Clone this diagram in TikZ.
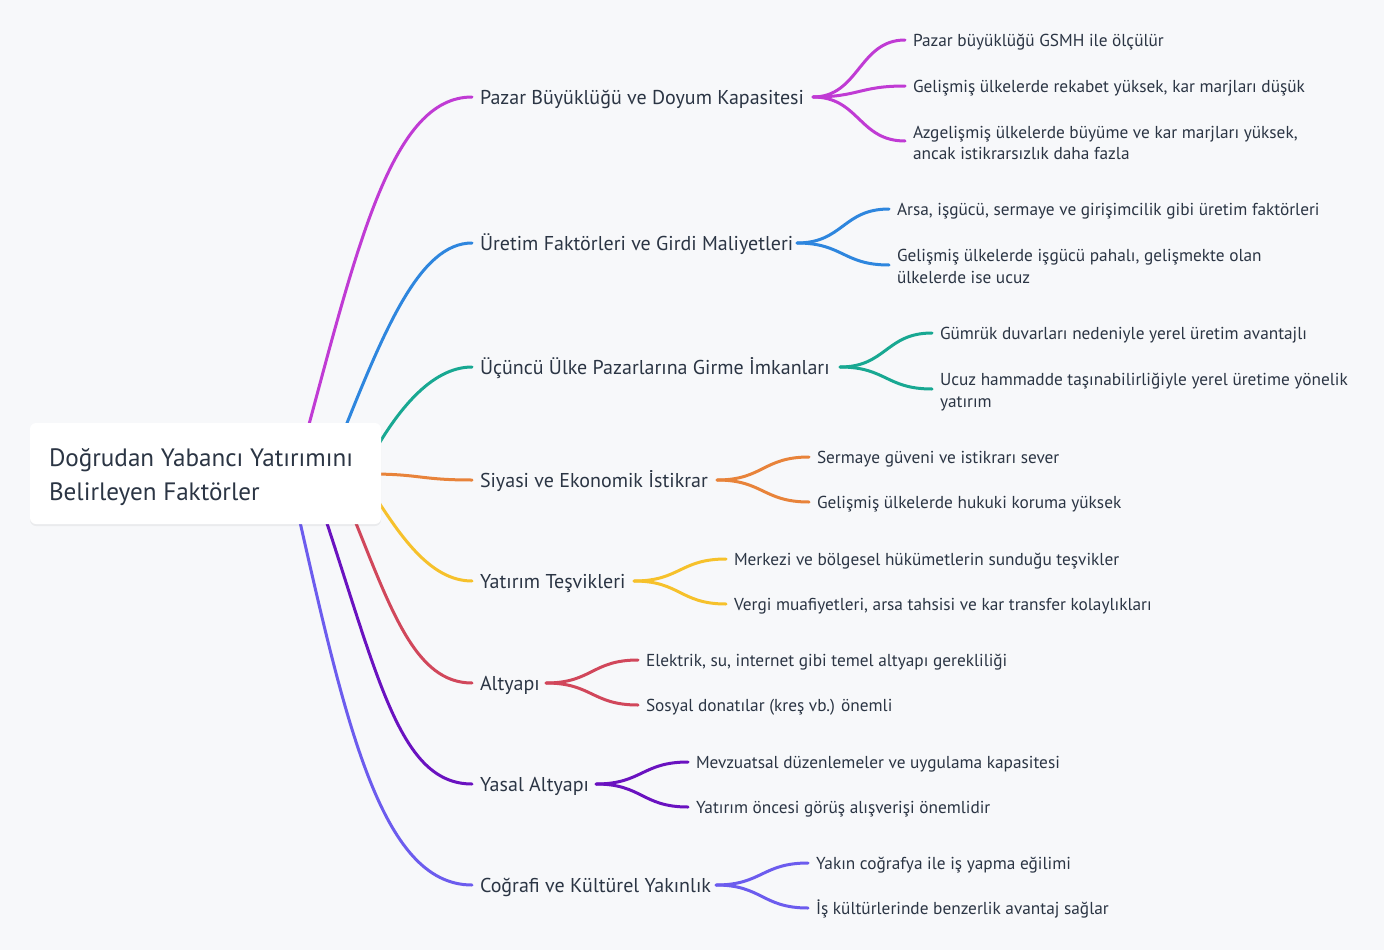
\documentclass[tikz,border=0pt]{standalone}
\usepackage{fontspec}
\setmainfont{PT Sans}
\usetikzlibrary{calc,shadows}
\definecolor{bg}{HTML}{F7F8FA}
\definecolor{txt}{HTML}{2B3544}
\definecolor{cA}{HTML}{C03BD4}
\definecolor{cB}{HTML}{2E86DE}
\definecolor{cC}{HTML}{18A892}
\definecolor{cD}{HTML}{E8833A}
\definecolor{cE}{HTML}{F6C12B}
\definecolor{cF}{HTML}{D1475B}
\definecolor{cG}{HTML}{6A12C0}
\definecolor{cH}{HTML}{6C5CEE}
\newlength\wtmp
\tikzset{
  kid/.style={anchor=base west, inner sep=0pt, outer sep=0pt, text=txt, align=left, font=\fontsize{\szc}{21.5}\selectfont},
  mid/.style={anchor=base west, inner sep=0pt, outer sep=0pt, text=txt, font=\fontsize{\szb}{24}\selectfont},
  roottext/.style={anchor=base west, inner sep=0pt, outer sep=0pt, align=left, text=txt, font=\fontsize{\sza}{34}\selectfont},
  rootbox/.style={fill=white, rounded corners=6pt, drop shadow={shadow xshift=0pt, shadow yshift=-2pt, opacity=0.05, fill=black}},
  link/.style={line width=3pt, line cap=round},
  kidcurve/.style={to path={.. controls ($(\tikztostart)!0.5!(\tikztostart -| \tikztotarget)$) and ($(\tikztotarget)!0.5!(\tikztotarget -| \tikztostart)$) .. (\tikztotarget)}}
}
\begin{document}
\settowidth\wtmp{\fontsize{10}{12}\selectfont Gelişmiş ülkelerde rekabet yüksek, kar marjları düşük}%
\pgfmathsetmacro\szc{3920/\wtmp}%
\settowidth\wtmp{\fontsize{10}{12}\selectfont Pazar Büyüklüğü ve Doyum Kapasitesi}%
\pgfmathsetmacro\szb{3240/\wtmp}%
\settowidth\wtmp{\fontsize{10}{12}\selectfont Doğrudan Yabancı Yatırımını}%
\pgfmathsetmacro\sza{3040/\wtmp}%
\pgfmathsetmacro\oc{0.35*\szc}%
\pgfmathsetmacro\ob{0.35*\szb}%
\pgfmathsetmacro\oa{0.35*\sza}%
\begin{tikzpicture}[x=1pt,y=-1pt]
\useasboundingbox (0,0) rectangle (1384,950);
\fill[bg] (0,0) rectangle (1384,950);

% root connector end points
\coordinate (rA) at (304,443);  \coordinate (eA) at (472,97);
\coordinate (rB) at (341,438);  \coordinate (eB) at (472,243);
\coordinate (rC) at (374,452);  \coordinate (eC) at (472,367);
\coordinate (rD) at (370,474);  \coordinate (eD) at (472,480);
\coordinate (rE) at (374,495);  \coordinate (eE) at (472,581);
\coordinate (rF) at (350.7,510);\coordinate (eF) at (472,683);
\coordinate (rG) at (322.6,510);\coordinate (eG) at (472,784);
\coordinate (rH) at (295,500);  \coordinate (eH) at (472,885);

\draw[link,cA] (rA) .. controls (358,243) and (392,97) .. (eA);
\draw[link,cB] (rB) .. controls (385,328) and (420,243) .. (eB);
\draw[link,cC] (rC) .. controls (396,414) and (430,367) .. (eC);
\draw[link,cD] (rD) .. controls (420,474) and (420,480) .. (eD);
\draw[link,cE] (rE) .. controls (400,535) and (430,581) .. (eE);
\draw[link,cF] (rF) .. controls (391,610) and (415,683) .. (eF);
\draw[link,cG] (rG) .. controls (379,680) and (400,784) .. (eG);
\draw[link,cH] (rH) .. controls (345,720) and (380,885) .. (eH);

% root
\fill[rootbox] (30,423) rectangle (381,524);
\node[roottext] (root) at (49,{492+\oa}) {Doğrudan Yabancı Yatırımını\\Belirleyen Faktörler};

% level 1
\node[mid] (pA) at (480,{97+\ob})  {Pazar Büyüklüğü ve Doyum Kapasitesi};
\node[mid] (pB) at (480,{243+\ob}) {Üretim Faktörleri ve Girdi Maliyetleri};
\node[mid] (pC) at (480,{367+\ob}) {Üçüncü Ülke Pazarlarına Girme İmkanları};
\node[mid] (pD) at (480,{480+\ob}) {Siyasi ve Ekonomik İstikrar};
\node[mid] (pE) at (480,{581+\ob}) {Yatırım Teşvikleri};
\node[mid] (pF) at (480,{683+\ob}) {Altyapı};
\node[mid] (pG) at (480,{784+\ob}) {Yasal Altyapı};
\node[mid] (pH) at (480,{885+\ob}) {Coğrafi ve Kültürel Yakınlık};

% branch starts
\coordinate (sA) at (813,97);
\coordinate (sB) at (797,243);
\coordinate (sC) at (840,367);
\coordinate (sD) at (717,480);
\coordinate (sE) at (634,581);
\coordinate (sF) at (546,683);
\coordinate (sG) at (596,784);
\coordinate (sH) at (716,885);

% child connector ends
\coordinate (kA1) at (905,40);  \coordinate (kA2) at (905,86);  \coordinate (kA3) at (905,141);
\coordinate (kB1) at (889,209); \coordinate (kB2) at (889,265);
\coordinate (kC1) at (932,333); \coordinate (kC2) at (932,389);
\coordinate (kD1) at (809,457); \coordinate (kD2) at (809,502);
\coordinate (kE1) at (726,559); \coordinate (kE2) at (726,604);
\coordinate (kF1) at (638,660); \coordinate (kF2) at (638,705);
\coordinate (kG1) at (688,762); \coordinate (kG2) at (688,807);
\coordinate (kH1) at (808,863); \coordinate (kH2) at (808,908);

\draw[link,cA] (sA) to[kidcurve] (kA1);
\draw[link,cA] (sA) to[kidcurve] (kA2);
\draw[link,cA] (sA) to[kidcurve] (kA3);
\draw[link,cB] (sB) to[kidcurve] (kB1);
\draw[link,cB] (sB) to[kidcurve] (kB2);
\draw[link,cC] (sC) to[kidcurve] (kC1);
\draw[link,cC] (sC) to[kidcurve] (kC2);
\draw[link,cD] (sD) to[kidcurve] (kD1);
\draw[link,cD] (sD) to[kidcurve] (kD2);
\draw[link,cE] (sE) to[kidcurve] (kE1);
\draw[link,cE] (sE) to[kidcurve] (kE2);
\draw[link,cF] (sF) to[kidcurve] (kF1);
\draw[link,cF] (sF) to[kidcurve] (kF2);
\draw[link,cG] (sG) to[kidcurve] (kG1);
\draw[link,cG] (sG) to[kidcurve] (kG2);
\draw[link,cH] (sH) to[kidcurve] (kH1);
\draw[link,cH] (sH) to[kidcurve] (kH2);

% level 2 texts (multi-line nodes: base = last line)
\node[kid] (tA1) at (913,{40+\oc})  {Pazar büyüklüğü GSMH ile ölçülür};
\node[kid] (tA2) at (913,{86+\oc})  {Gelişmiş ülkelerde rekabet yüksek, kar marjları düşük};
\node[kid] (tA3) at (913,{153.5+\oc}) {Azgelişmiş ülkelerde büyüme ve kar marjları yüksek,\\ancak istikrarsızlık daha fazla};
\node[kid] (tB1) at (897,{209+\oc}) {Arsa, işgücü, sermaye ve girişimcilik gibi üretim faktörleri};
\node[kid] (tB2) at (897,{277+\oc}) {Gelişmiş ülkelerde işgücü pahalı, gelişmekte olan\\ülkelerde ise ucuz};
\node[kid] (tC1) at (940,{333+\oc}) {Gümrük duvarları nedeniyle yerel üretim avantajlı};
\node[kid] (tC2) at (940,{401+\oc}) {Ucuz hammadde taşınabilirliğiyle yerel üretime yönelik\\yatırım};
\node[kid] (tD1) at (817,{457+\oc}) {Sermaye güveni ve istikrarı sever};
\node[kid] (tD2) at (817,{502+\oc}) {Gelişmiş ülkelerde hukuki koruma yüksek};
\node[kid] (tE1) at (734,{559+\oc}) {Merkezi ve bölgesel hükümetlerin sunduğu teşvikler};
\node[kid] (tE2) at (734,{604+\oc}) {Vergi muafiyetleri, arsa tahsisi ve kar transfer kolaylıkları};
\node[kid] (tF1) at (646,{660+\oc}) {Elektrik, su, internet gibi temel altyapı gerekliliği};
\node[kid] (tF2) at (646,{705+\oc}) {Sosyal donatılar (kreş vb.) önemli};
\node[kid] (tG1) at (696,{762+\oc}) {Mevzuatsal düzenlemeler ve uygulama kapasitesi};
\node[kid] (tG2) at (696,{807+\oc}) {Yatırım öncesi görüş alışverişi önemlidir};
\node[kid] (tH1) at (816,{863+\oc}) {Yakın coğrafya ile iş yapma eğilimi};
\node[kid] (tH2) at (816,{908+\oc}) {İş kültürlerinde benzerlik avantaj sağlar};
\end{tikzpicture}
\end{document}
